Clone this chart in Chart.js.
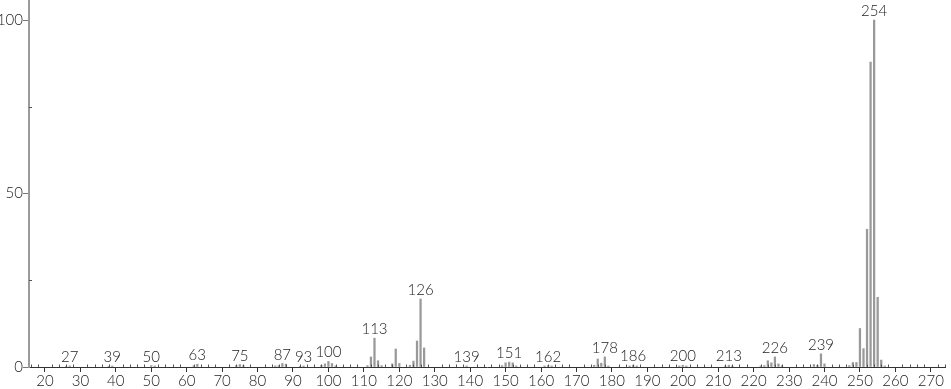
<!DOCTYPE html>
<html>
<head>
<meta charset="utf-8">
<title>Mass spectrum</title>
<script src="https://cdn.jsdelivr.net/npm/chart.js@4.4.1/dist/chart.umd.min.js"></script>
<style>
    html, body { margin: 0; padding: 0; background: #fff; }
    #wrap { width: 951px; height: 389px; }
</style>
</head>
<body>
<div id="wrap"><canvas id="spectrum" width="951" height="389"></canvas></div>
<script>
// m/z values and relative intensities
const massValues = [
    26, 27, 38, 39, 50, 51, 62, 63, 74, 75, 76, 85, 86, 87, 88, 92, 93,
    98, 99, 100, 101, 102, 111, 112, 113, 114, 115, 118, 119, 120, 123, 124, 125, 126, 127,
    139, 149, 150, 151, 152, 153, 161, 162, 163, 175, 176, 177, 178, 179,
    185, 186, 187, 199, 200, 201, 212, 213, 214,
    222, 223, 224, 225, 226, 227, 228, 237, 238, 239, 240,
    247, 248, 249, 250, 251, 252, 253, 254, 255, 256, 257
];
const intensities = [
    0.2, 0.3, 0.2, 0.3, 0.4, 0.3, 0.4, 0.8, 0.4, 0.7, 0.4, 0.3, 0.4, 1.0, 0.8, 0.2, 0.3,
    0.5, 0.9, 1.6, 1.0, 0.3, 0.4, 2.9, 8.3, 1.8, 0.4, 0.9, 5.2, 1.0, 0.5, 1.7, 7.5, 19.6, 5.5,
    0.3, 0.4, 1.2, 1.4, 1.2, 0.3, 0.3, 0.4, 0.3, 0.5, 2.3, 1.1, 2.9, 0.3,
    0.3, 0.5, 0.3, 0.3, 0.5, 0.3, 0.3, 0.5, 0.3,
    0.3, 0.4, 1.8, 1.2, 2.9, 0.9, 0.4, 0.7, 0.5, 3.8, 0.9,
    0.4, 1.3, 1.3, 11.1, 5.3, 39.7, 87.9, 100, 20.1, 2.0, 0.3
];
// peaks that carry an m/z label
const labelledPeaks = [27, 39, 50, 63, 75, 87, 93, 100, 113, 126, 139, 151, 162, 178, 186, 200, 213, 226, 239, 254];

// axis ticks
const xMajorTicks = [20, 30, 40, 50, 60, 70, 80, 90, 100, 110, 120, 130, 140, 150, 160, 170, 180, 190, 200, 210, 220, 230, 240, 250, 260, 270];
const yTicks = [0, 25, 50, 75, 100];
const yLabelledTicks = [0, 50, 100];

const FONT = { family: 'Lato, "DejaVu Sans", sans-serif', size: 15, weight: 300 };
const TEXT_COLOR = '#222';

// small unlabelled ticks: every 2 on m/z axis (pointing up), 25/75 on intensity axis
const minorTicks = {
    id: 'minorTicks',
    afterDraw(chart) {
        const { ctx, chartArea, scales } = chart;
        const xs = scales.x;
        const ys = scales.y;
        ctx.save();
        ctx.strokeStyle = '#555';
        ctx.lineWidth = 1;
        ctx.beginPath();
        for (let v = Math.ceil(xs.min / 2) * 2; v <= xs.max; v += 2) {
            if (v % 10 === 0) continue;
            const px = Math.round(xs.getPixelForValue(v)) + 0.5;
            ctx.moveTo(px, chartArea.bottom);
            ctx.lineTo(px, chartArea.bottom - 2.5);
        }
        yTicks.forEach(v => {
            if (yLabelledTicks.includes(v)) return;
            const py = Math.round(ys.getPixelForValue(v)) + 0.5;
            ctx.moveTo(chartArea.left, py);
            ctx.lineTo(chartArea.left + 3, py);
        });
        ctx.stroke();
        ctx.restore();
    }
};

// m/z labels above selected peaks
const peakLabels = {
    id: 'peakLabels',
    afterDatasetsDraw(chart) {
        const { ctx } = chart;
        const meta = chart.getDatasetMeta(0);
        ctx.save();
        ctx.font = `${FONT.weight} ${FONT.size}px ${FONT.family}`;
        ctx.fillStyle = TEXT_COLOR;
        ctx.textAlign = 'center';
        ctx.textBaseline = 'alphabetic';
        massValues.forEach((m, i) => {
            if (!labelledPeaks.includes(m)) return;
            const bar = meta.data[i];
            ctx.fillText(String(m), bar.x, bar.y - 4);
        });
        ctx.restore();
    }
};

const ctx = document.getElementById('spectrum').getContext('2d');
new Chart(ctx, {
    type: 'bar',
    data: {
        datasets: [{
            data: massValues.map((m, i) => ({ x: m, y: intensities[i] })),
            backgroundColor: '#999',
            borderWidth: 0,
            barThickness: 1.6
        }]
    },
    options: {
        responsive: false,
        animation: false,
        devicePixelRatio: 1,
        layout: { padding: { top: 0, right: 6, bottom: 0, left: 0 } },
        plugins: {
            legend: { display: false },
            tooltip: { enabled: false }
        },
        scales: {
            x: {
                type: 'linear',
                min: 15.5,
                max: 274,
                offset: false,
                border: { color: '#333', width: 1 },
                grid: {
                    offset: false,
                    drawOnChartArea: false,
                    tickLength: 5,
                    tickColor: '#333'
                },
                ticks: {
                    color: TEXT_COLOR,
                    font: FONT,
                    padding: 0,
                    autoSkip: false,
                    maxRotation: 0
                },
                afterBuildTicks: scale => {
                    scale.ticks = xMajorTicks.map(v => ({ value: v }));
                },
                afterFit: scale => {
                    scale.height = 22;
                    scale.paddingRight = 0;
                }
            },
            y: {
                min: 0,
                max: 105.8,
                border: { color: '#9a9a9a', width: 2 },
                grid: {
                    drawOnChartArea: false,
                    tickLength: 6,
                    tickColor: c => yLabelledTicks.includes(c.tick.value) ? '#777' : 'rgba(0,0,0,0)'
                },
                ticks: {
                    color: TEXT_COLOR,
                    font: FONT,
                    padding: 0,
                    callback: v => yLabelledTicks.includes(v) ? String(v) : ''
                },
                afterBuildTicks: scale => {
                    scale.ticks = yTicks.map(v => ({ value: v }));
                },
                afterFit: scale => {
                    scale.width = 29;
                    scale.paddingTop = 0;
                    scale.paddingBottom = 0;
                }
            }
        }
    },
    plugins: [minorTicks, peakLabels]
});
</script>
</body>
</html>
